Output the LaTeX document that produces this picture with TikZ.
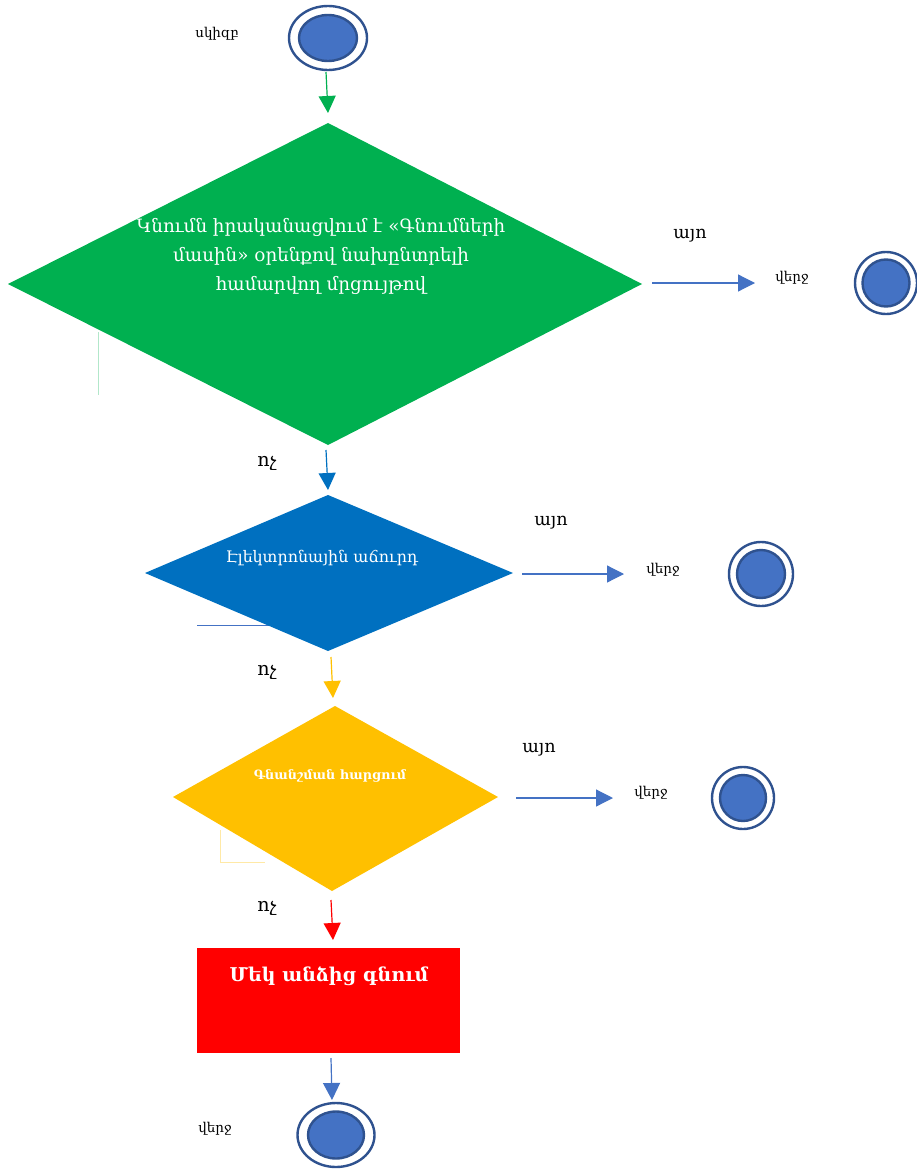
\documentclass[tikz,border=0pt]{standalone}
\usepackage{fontspec}
\setmainfont{DejaVu Serif}
\usetikzlibrary{arrows.meta}
\definecolor{cgreen}{HTML}{00B050}
\definecolor{cblue}{HTML}{0070C0}
\definecolor{cyellow}{HTML}{FFC000}
\definecolor{cred}{HTML}{FF0000}
\definecolor{cfill}{HTML}{4472C4}
\definecolor{cring}{HTML}{2F528F}
\tikzset{
  lbl/.style={font=\fontsize{13.5}{15}\selectfont, text=black, inner sep=0pt},
  ans/.style={font=\fontsize{17.5}{19}\selectfont, text=black, inner sep=0pt},
  nolbl/.style={font=\fontsize{19}{21}\selectfont, text=black, inner sep=0pt},
  flow/.style={line width=1.2pt, -{Triangle[length=17pt,width=17pt]}},
  ring/.style={draw=cring, line width=2.4pt, fill=white},
  core/.style={draw=cring, line width=2.4pt, fill=cfill},
}
\begin{document}
\begin{tikzpicture}[x=1pt,y=-1pt]
\useasboundingbox (0,0) rectangle (917,1169);
% start
\draw[ring] (328,38) ellipse [x radius=39, y radius=32];
\draw[core] (328,38) ellipse [x radius=29, y radius=23];
\node[lbl] (start) at (217,34) {սկիզբ};
% diamond 1
\coordinate (d1t) at (328,123); \coordinate (d1l) at (8,284);
\coordinate (d1r) at (642,284); \coordinate (d1b) at (328,445);
\fill[cgreen] (d1t) -- (d1r) -- (d1b) -- (d1l) -- cycle;
\draw[cgreen!30, line width=0.8pt] (98,332) -- (98,395);
\node[text=white, align=center, font=\fontsize{18.3}{29}\selectfont, inner sep=0pt] (q1) at (321,256)
  {Կնումն իրականացվում է «Գնումների\\մասին» օրենքով նախընտրելի\\համարվող մրցույթով};
\coordinate (a0s) at (326,72); \coordinate (a0e) at (328,113);
\draw[flow, cgreen] (a0s) -- (a0e);
% yes 1
\coordinate (y1s) at (652,283); \coordinate (y1e) at (755,283);
\draw[flow, cfill] (y1s) -- (y1e);
\node[ans] (yes1) at (690,236) {այո};
\node[lbl] (end1l) at (792,278) {վերջ};
\draw[ring] (886,283) ellipse [x radius=31, y radius=31];
\draw[core] (886,283) ellipse [x radius=23.5, y radius=23.5];
% no 1
\node[nolbl] (no1) at (267,463) {ոչ};
\coordinate (n1s) at (326,450); \coordinate (n1e) at (328,490);
\draw[flow, cblue] (n1s) -- (n1e);
% diamond 2
\coordinate (d2t) at (328,495); \coordinate (d2l) at (145,573);
\coordinate (d2r) at (513,573); \coordinate (d2b) at (328,651);
\draw[cfill, line width=0.8pt] (197,625) -- (275,625);
\fill[cblue] (d2t) -- (d2r) -- (d2b) -- (d2l) -- cycle;
\node[text=white, font=\fontsize{15.9}{18}\selectfont, inner sep=0pt] (q2) at (322,558) {Էլեկտրոնային աճուրդ};
% yes 2
\coordinate (y2s) at (522,574); \coordinate (y2e) at (624,574);
\draw[flow, cfill] (y2s) -- (y2e);
\node[ans] (yes2) at (551,523) {այո};
\node[lbl] (end2l) at (663,570) {վերջ};
\draw[ring] (761,574) ellipse [x radius=32, y radius=32];
\draw[core] (761,574) ellipse [x radius=24, y radius=24];
% no 2
\node[nolbl] (no2) at (267,672) {ոչ};
\coordinate (n2s) at (331,657); \coordinate (n2e) at (333,698);
\draw[flow, cyellow] (n2s) -- (n2e);
% diamond 3
\coordinate (d3t) at (335,706); \coordinate (d3l) at (173,797);
\coordinate (d3r) at (498,797); \coordinate (d3b) at (332,891);
\draw[cyellow!35, line width=0.8pt] (220,830) -- (220,862) -- (265,862);
\fill[cyellow] (d3t) -- (d3r) -- (d3b) -- (d3l) -- cycle;
\node[text=white, font=\bfseries\fontsize{12.8}{15}\selectfont, inner sep=0pt] (q3) at (330,776) {Գնանշման հարցում};
% yes 3
\coordinate (y3s) at (516,798); \coordinate (y3e) at (613,798);
\draw[flow, cfill] (y3s) -- (y3e);
\node[ans] (yes3) at (539,750) {այո};
\node[lbl] (end3l) at (651,793) {վերջ};
\draw[ring] (743,798) ellipse [x radius=31, y radius=31];
\draw[core] (743,798) ellipse [x radius=23, y radius=23];
% no 3
\node[nolbl] (no3) at (267,908) {ոչ};
\coordinate (n3s) at (331,900); \coordinate (n3e) at (333,940);
\draw[flow, cred] (n3s) -- (n3e);
% red box
\fill[cred] (197,948) rectangle (460,1053);
\node[text=white, font=\bfseries\fontsize{19}{22}\selectfont, inner sep=0pt] (box) at (329,976) {Մեկ անձից գնում};
\coordinate (bs) at (331,1058); \coordinate (be) at (332,1100);
\draw[flow, cfill] (bs) -- (be);
\draw[ring] (336,1135) ellipse [x radius=38.5, y radius=32];
\draw[core] (336,1135) ellipse [x radius=28, y radius=23.5];
\node[lbl] (end4l) at (215,1129) {վերջ};
\end{tikzpicture}
\end{document}
